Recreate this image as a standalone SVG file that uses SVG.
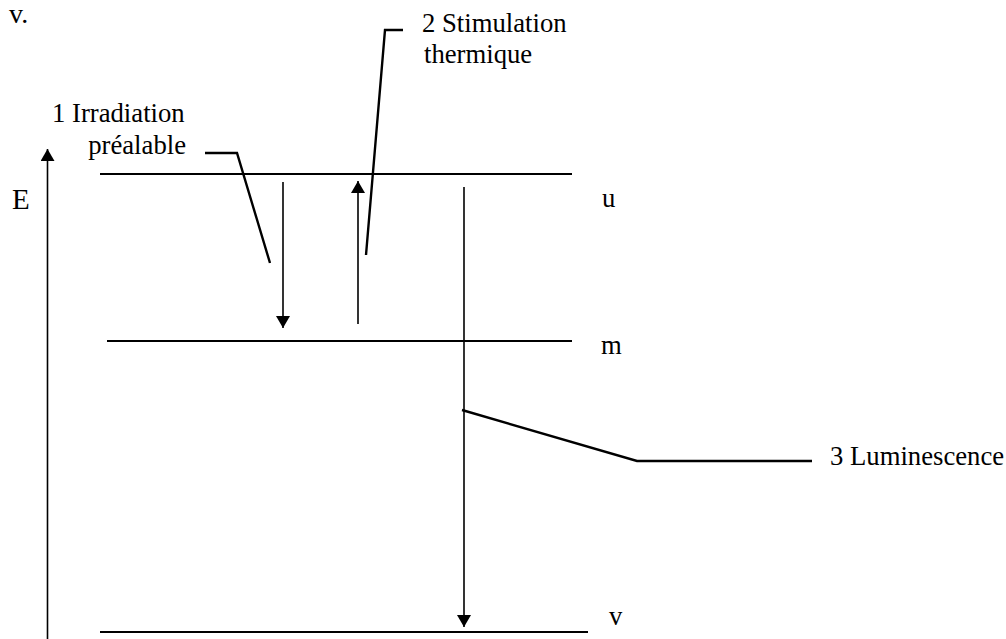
<svg xmlns="http://www.w3.org/2000/svg" width="1006" height="639" viewBox="0 0 1006 639">
<style>
.lbl{font-size:26.7px}
.lvl{stroke:#000;stroke-width:2.2;fill:none}
.arr{stroke:#000;stroke-width:1.6;fill:none}
.ldr{stroke:#000;stroke-width:2.4;fill:none}
</style>
<defs>
<marker id="ah" viewBox="0 0 12 14" refX="12" refY="7" markerUnits="userSpaceOnUse" markerWidth="12" markerHeight="14" orient="auto">
<path d="M0,0 L12,7 L0,14 Z" fill="#000"/>
</marker>
</defs>
<rect width="1006" height="639" fill="#fff"/>
<g font-family="'Liberation Serif', 'Times New Roman', 'DejaVu Serif', serif" fill="#000">
<text x="9" y="23" font-size="28">v.</text>
<g id="axis-E">
<line class="arr" x1="47.5" y1="639" x2="47.5" y2="149" marker-end="url(#ah)"/>
<text x="12" y="209" font-size="29">E</text>
</g>
<g id="level-u">
<line class="lvl" x1="100" y1="174" x2="572" y2="174"/>
<text class="lbl" x="602" y="207">u</text>
</g>
<g id="level-m">
<line class="lvl" x1="107" y1="341" x2="572" y2="341"/>
<text class="lbl" x="601" y="354">m</text>
</g>
<g id="level-v">
<line class="lvl" x1="100" y1="632" x2="588" y2="632"/>
<text class="lbl" x="609" y="625">v</text>
</g>
<g id="label-1">
<text class="lbl" x="52" y="122">1 Irradiation</text>
<text class="lbl" x="186" y="154" text-anchor="end">préalable</text>
</g>
<g id="label-2">
<text class="lbl" x="422" y="32">2 Stimulation</text>
<text class="lbl" x="424" y="63">thermique</text>
</g>
<g id="label-3">
<text class="lbl" x="830" y="465">3 Luminescence</text>
</g>
</g>
<g id="connectors">
<line class="arr" x1="283" y1="182" x2="283" y2="328" marker-end="url(#ah)"/>
<line class="arr" x1="358" y1="324" x2="358" y2="181" marker-end="url(#ah)"/>
<line class="arr" x1="464" y1="187" x2="464" y2="627" marker-end="url(#ah)"/>
<polyline class="ldr" points="205,153 237,153 270,263"/>
<polyline class="ldr" points="403,30 385,30 366,255"/>
<polyline class="ldr" points="462,410 637,461 812,461"/>
</g>
</svg>
